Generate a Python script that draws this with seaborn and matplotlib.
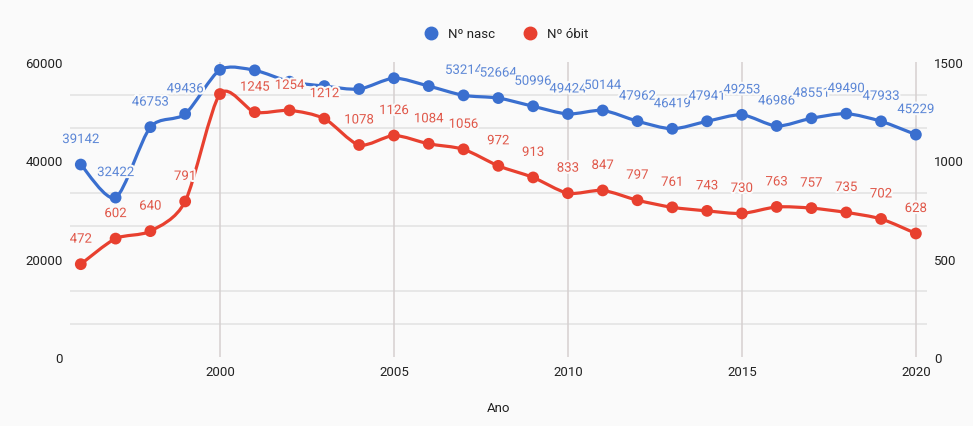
import numpy as np
import pandas as pd
import matplotlib
matplotlib.use("Agg")
import matplotlib.pyplot as plt
import matplotlib.patheffects as pe
import seaborn as sns
from matplotlib.path import Path
from matplotlib.patches import PathPatch
from matplotlib.lines import Line2D

# ---------------- data ----------------
years = list(range(1996, 2021))
nasc = [39142, 32422, 46753, 49436, 58400, 58300, 56000, 55100, 54500, 56700,
        55100, 53214, 52664, 50996, 49424, 50144, 47962, 46419, 47941, 49253,
        46986, 48551, 49490, 47933, 45229]
obit = [472, 602, 640, 791, 1337, 1245, 1254, 1212, 1078, 1126,
        1084, 1056, 972, 913, 833, 847, 797, 761, 743, 730,
        763, 757, 735, 702, 628]
hidden_nasc_labels = [2000, 2001, 2002, 2003, 2004, 2005, 2006]
hidden_obit_labels = [2000]
series_names = ["Nº nasc", "Nº óbit"]
x_title = "Ano"
left_ticks = [0, 20000, 40000, 60000]
right_ticks = [0, 500, 1000, 1500]
x_ticks = [2000, 2005, 2010, 2015, 2020]

df = pd.DataFrame({"Ano": years, "nasc": nasc, "obit": obit})

# ---------------- style ----------------
sns.set_theme(style="white")
plt.rcParams["font.family"] = ["Roboto", "DejaVu Sans"]
BG = "#fafafa"
BLUE = "#3a6fcf"
BLUE_TXT = "#5b86d6"
RED = "#e8402f"
RED_TXT = "#e0584a"
GRID = "#e2e2e2"
VGRID = "#d6d0d0"
TXT = "#222222"

fig = plt.figure(figsize=(9.73, 4.27), dpi=100, facecolor=BG)
ax = fig.add_axes([70 / 973, 69 / 427, 857 / 973, 295 / 427])
ax.set_facecolor(BG)
ax2 = ax.twinx()
ax2.patch.set_visible(False)

ax.set_xlim(1995.69, 2020.32)
ax.set_ylim(0, 60000)
ax2.set_ylim(0, 1500)

# grid lines (minor levels only, as in reference)
for k in [1, 2, 4, 5, 7, 8]:
    ax.axhline(60000 * k / 9, color=GRID, lw=1.1, zorder=0)
for xv in x_ticks:
    ax.axvline(xv, color=VGRID, lw=1.1, zorder=0)


def smooth_path(xs, ys, k=0.8):
    xs = np.asarray(xs, float)
    ys = np.asarray(ys, float)
    n = len(xs)
    verts = [(xs[0], ys[0])]
    codes = [Path.MOVETO]
    for i in range(n - 1):
        p0 = np.array([xs[max(i - 1, 0)], ys[max(i - 1, 0)]])
        p1 = np.array([xs[i], ys[i]])
        p2 = np.array([xs[i + 1], ys[i + 1]])
        p3 = np.array([xs[min(i + 2, n - 1)], ys[min(i + 2, n - 1)]])
        c1 = p1 + (p2 - p0) * k / 6
        c2 = p2 - (p3 - p1) * k / 6
        verts += [tuple(c1), tuple(c2), tuple(p2)]
        codes += [Path.CURVE4] * 3
    return Path(verts, codes)


halo = [pe.withStroke(linewidth=3, foreground=BG)]

# blue series (left axis)
ax.add_patch(PathPatch(smooth_path(df["Ano"], df["nasc"]), facecolor="none",
                       edgecolor=BLUE, lw=2.3, zorder=2, capstyle="round"))
sns.scatterplot(data=df, x="Ano", y="nasc", ax=ax, color=BLUE, s=72,
                edgecolor="none", zorder=3, legend=False)
for xv, yv in zip(years, nasc):
    if xv in hidden_nasc_labels:
        continue
    ax.annotate(str(yv), (xv, yv), xytext=(0, 18), textcoords="offset points",
                ha="center", va="center", fontsize=9.5, color=BLUE_TXT, zorder=4,
                path_effects=halo)

# red series (right axis)
ax2.add_patch(PathPatch(smooth_path(df["Ano"], df["obit"]), facecolor="none",
                        edgecolor=RED, lw=2.3, zorder=2, capstyle="round"))
sns.scatterplot(data=df, x="Ano", y="obit", ax=ax2, color=RED, s=72,
                edgecolor="none", zorder=3, legend=False)
for xv, yv in zip(years, obit):
    if xv in hidden_obit_labels:
        continue
    ax2.annotate(str(yv), (xv, yv), xytext=(0, 18), textcoords="offset points",
                 ha="center", va="center", fontsize=9.5, color=RED_TXT, zorder=4,
                 path_effects=halo)

# axes cosmetics
for a in (ax, ax2):
    for s in a.spines.values():
        s.set_visible(False)
    a.grid(False)

ax.set_yticks(left_ticks)
ax.set_yticklabels([str(v) for v in left_ticks])
ax2.set_yticks(right_ticks)
ax2.set_yticklabels([str(v) for v in right_ticks])
ax.set_xticks(x_ticks)
ax.set_xticklabels([str(v) for v in x_ticks])
ax.tick_params(axis="y", length=0, pad=5, labelsize=9.5, labelcolor=TXT)
ax2.tick_params(axis="y", length=0, pad=5, labelsize=9.5, labelcolor=TXT)
ax.tick_params(axis="x", length=0, pad=6, labelsize=9.5, labelcolor=TXT)
ax.set_xlabel(x_title, fontsize=9.5, color=TXT, labelpad=16)
ax.set_ylabel("")
ax2.set_ylabel("")

handles = [Line2D([], [], marker="o", ls="none", color=BLUE, markersize=9),
           Line2D([], [], marker="o", ls="none", color=RED, markersize=9)]
fig.legend(handles, series_names, loc="center", bbox_to_anchor=(503 / 973, 1 - 35 / 427),
           ncol=2, frameon=False, fontsize=9.5, handletextpad=0.3, columnspacing=1.6,
           labelcolor=TXT)

fig.savefig("out.png", dpi=100, facecolor=BG)
